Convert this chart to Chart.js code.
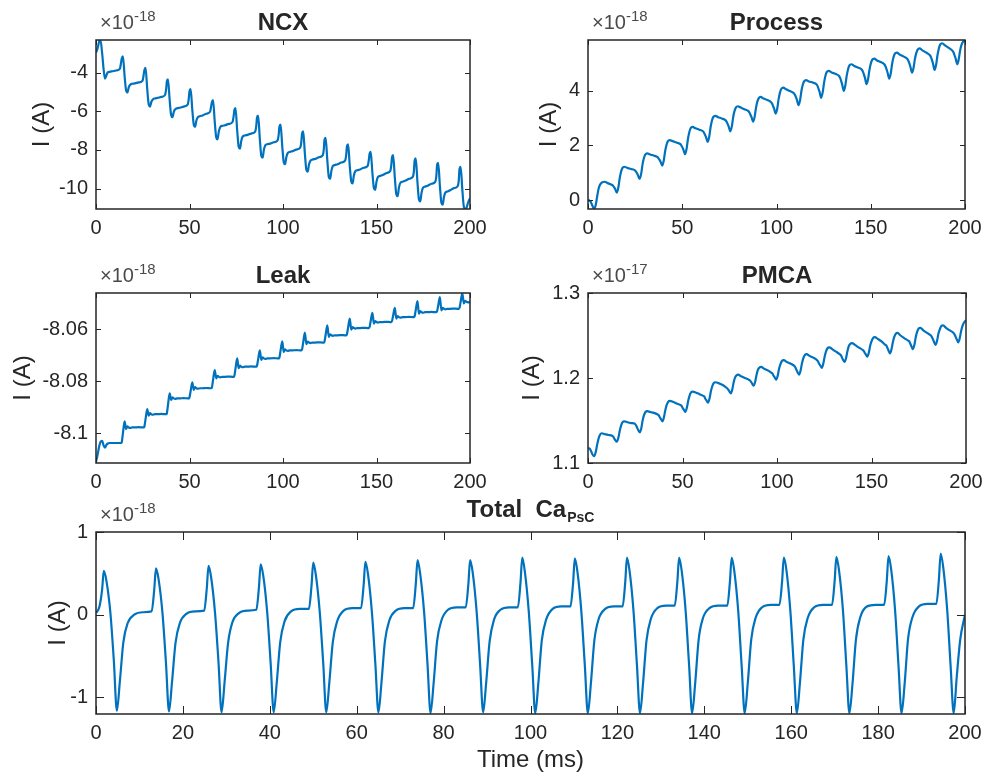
<!DOCTYPE html>
<html>
<head>
<meta charset="utf-8">
<script src="https://cdn.jsdelivr.net/npm/chart.js@4.4.1/dist/chart.umd.min.js"></script>
<style>
  html, body { margin: 0; padding: 0; background: #fff; }
  #fig { position: relative; width: 985px; height: 773px; overflow: hidden; background: #fff; }
  #fig canvas { position: absolute; }
</style>
</head>
<body>
<div id="fig">
  <canvas id="ncx" width="490" height="250" style="left:0;top:0"></canvas>
  <canvas id="process" width="495" height="250" style="left:490px;top:0"></canvas>
  <canvas id="leak" width="490" height="250" style="left:0;top:250px"></canvas>
  <canvas id="pmca" width="495" height="250" style="left:490px;top:250px"></canvas>
  <canvas id="total" width="985" height="278" style="left:0;top:495px"></canvas>
</div>
<script>
// time samples (ms), one row per stimulation cycle
const TIME = [
  0, 0.8, 1.4, 1.8, 2.4, 3.3, 4.1, 4.8, 5.5, 6.3, 7.3, 8.8, 10.8,
  12.8, 13.4, 13.8, 14.4, 15.3, 16.1, 16.8, 17.5, 18.3, 19.3, 20.8, 22.8,
  24.9, 25.5, 25.9, 26.5, 27.4, 28.2, 28.9, 29.6, 30.4, 31.4, 32.9, 34.9,
  36.9, 37.5, 37.9, 38.5, 39.4, 40.2, 40.9, 41.6, 42.4, 43.4, 44.9, 46.9,
  49.0, 49.6, 50.0, 50.6, 51.5, 52.3, 53.0, 53.7, 54.5, 55.5, 57.0, 59.0,
  61.0, 61.6, 62.0, 62.6, 63.5, 64.3, 65.0, 65.7, 66.5, 67.5, 69.0, 71.0,
  73.0, 73.6, 74.0, 74.6, 75.5, 76.3, 77.0, 77.7, 78.5, 79.5, 81.0, 83.0,
  85.1, 85.7, 86.1, 86.7, 87.6, 88.4, 89.1, 89.8, 90.6, 91.6, 93.1, 95.1,
  97.1, 97.7, 98.1, 98.7, 99.6, 100.4, 101.1, 101.8, 102.6, 103.6, 105.1, 107.1,
  109.2, 109.8, 110.2, 110.8, 111.7, 112.5, 113.2, 113.9, 114.7, 115.7, 117.2, 119.2,
  121.2, 121.8, 122.2, 122.8, 123.7, 124.5, 125.2, 125.9, 126.7, 127.7, 129.2, 131.2,
  133.2, 133.8, 134.2, 134.8, 135.7, 136.5, 137.2, 137.9, 138.7, 139.7, 141.2, 143.2,
  145.3, 145.9, 146.3, 146.9, 147.8, 148.6, 149.3, 150.0, 150.8, 151.8, 153.3, 155.3,
  157.3, 157.9, 158.3, 158.9, 159.8, 160.6, 161.3, 162.0, 162.8, 163.8, 165.3, 167.3,
  169.4, 170.0, 170.4, 171.0, 171.9, 172.7, 173.4, 174.1, 174.9, 175.9, 177.4, 179.4,
  181.4, 182.0, 182.4, 183.0, 183.9, 184.7, 185.4, 186.1, 186.9, 187.9, 189.4, 191.4,
  193.4, 194.0, 194.4, 195.0, 195.9, 196.7, 197.4, 198.1, 198.9, 200.0
];

// currents, in units of 1e-18 A
const NCX = [
  -2.95, -2.75, -2.50, -2.35, -2.32, -3.00, -3.85, -4.30, -4.15, -3.98, -3.95, -3.92, -3.88,
  -3.78, -3.48, -3.25, -3.15, -4.18, -4.92, -5.02, -4.75, -4.62, -4.57, -4.55, -4.50,
  -4.40, -4.10, -3.85, -3.75, -4.85, -5.65, -5.75, -5.50, -5.38, -5.33, -5.30, -5.25,
  -5.15, -4.85, -4.44, -4.34, -5.42, -6.20, -6.30, -6.02, -5.89, -5.84, -5.81, -5.75,
  -5.65, -5.35, -4.95, -4.85, -5.92, -6.70, -6.80, -6.47, -6.30, -6.25, -6.21, -6.12,
  -6.02, -5.72, -5.52, -5.42, -6.54, -7.35, -7.45, -7.03, -6.80, -6.75, -6.72, -6.65,
  -6.55, -6.25, -5.93, -5.83, -6.99, -7.83, -7.93, -7.52, -7.30, -7.25, -7.22, -7.15,
  -7.05, -6.75, -6.32, -6.22, -7.42, -8.30, -8.40, -7.98, -7.75, -7.70, -7.67, -7.60,
  -7.50, -7.20, -6.78, -6.68, -7.81, -8.64, -8.74, -8.36, -8.15, -8.10, -8.06, -7.98,
  -7.88, -7.58, -7.14, -7.04, -8.19, -9.03, -9.13, -8.75, -8.55, -8.50, -8.46, -8.38,
  -8.28, -7.98, -7.47, -7.37, -8.54, -9.40, -9.50, -9.07, -8.83, -8.78, -8.74, -8.65,
  -8.55, -8.25, -7.81, -7.71, -8.82, -9.63, -9.73, -9.32, -9.10, -9.05, -9.01, -8.92,
  -8.82, -8.52, -8.20, -8.10, -9.18, -9.97, -10.07, -9.64, -9.40, -9.35, -9.30, -9.20,
  -9.10, -8.80, -8.37, -8.27, -9.44, -10.30, -10.40, -9.95, -9.70, -9.65, -9.60, -9.50,
  -9.40, -9.10, -8.54, -8.44, -9.67, -10.57, -10.67, -10.21, -9.95, -9.90, -9.85, -9.75,
  -9.65, -9.35, -8.77, -8.67, -9.86, -10.74, -10.84, -10.43, -10.20, -10.15, -10.09, -9.98,
  -9.88, -9.58, -8.97, -8.87, -10.06, -10.94, -11.04, -11.00, -10.75, -10.50
];

const PROCESS = [
  0.00, -0.02, -0.06, -0.12, -0.22, -0.32, -0.18, 0.10, 0.38, 0.55, 0.64, 0.67, 0.61,
  0.55, 0.51, 0.47, 0.40, 0.27, 0.46, 0.79, 1.03, 1.18, 1.22, 1.18, 1.14,
  1.09, 1.04, 0.99, 0.91, 0.77, 0.96, 1.29, 1.52, 1.67, 1.71, 1.67, 1.63,
  1.57, 1.52, 1.48, 1.40, 1.26, 1.45, 1.78, 2.01, 2.16, 2.20, 2.16, 2.11,
  2.05, 1.99, 1.94, 1.85, 1.68, 1.88, 2.23, 2.48, 2.64, 2.68, 2.63, 2.58,
  2.52, 2.46, 2.40, 2.31, 2.13, 2.32, 2.66, 2.90, 3.05, 3.09, 3.04, 2.99,
  2.92, 2.86, 2.80, 2.70, 2.52, 2.70, 3.03, 3.26, 3.40, 3.44, 3.39, 3.33,
  3.26, 3.20, 3.14, 3.05, 2.87, 3.05, 3.37, 3.60, 3.74, 3.78, 3.72, 3.67,
  3.59, 3.53, 3.46, 3.36, 3.17, 3.36, 3.69, 3.93, 4.08, 4.12, 4.06, 4.00,
  3.92, 3.85, 3.79, 3.68, 3.48, 3.66, 3.99, 4.22, 4.36, 4.40, 4.35, 4.31,
  4.25, 4.18, 4.10, 3.98, 3.75, 3.95, 4.29, 4.54, 4.70, 4.74, 4.68, 4.63,
  4.55, 4.47, 4.39, 4.25, 4.00, 4.20, 4.54, 4.78, 4.94, 4.98, 4.92, 4.86,
  4.78, 4.70, 4.62, 4.49, 4.25, 4.44, 4.77, 5.00, 5.15, 5.19, 5.12, 5.06,
  4.97, 4.89, 4.81, 4.68, 4.45, 4.64, 4.98, 5.22, 5.37, 5.41, 5.34, 5.27,
  5.18, 5.10, 5.03, 4.90, 4.67, 4.85, 5.16, 5.38, 5.52, 5.56, 5.49, 5.41,
  5.31, 5.23, 5.15, 5.01, 4.77, 4.97, 5.31, 5.55, 5.71, 5.75, 5.67, 5.58,
  5.47, 5.40, 5.32, 5.20, 4.98, 5.17, 5.48, 5.68, 5.80, 5.85
];

const LEAK = [
  -8.1110, -8.1085, -8.1062, -8.1048, -8.1034, -8.1030, -8.1048, -8.1056, -8.1046, -8.1040, -8.1038, -8.1038, -8.1038,
  -8.1038, -8.1038, -8.1034, -8.1001, -8.0955, -8.0984, -8.0974, -8.0978, -8.0980, -8.0978, -8.0978, -8.0977,
  -8.0978, -8.0978, -8.0974, -8.0946, -8.0907, -8.0933, -8.0923, -8.0927, -8.0929, -8.0927, -8.0927, -8.0926,
  -8.0927, -8.0927, -8.0923, -8.0891, -8.0847, -8.0872, -8.0862, -8.0866, -8.0868, -8.0866, -8.0866, -8.0865,
  -8.0866, -8.0866, -8.0862, -8.0838, -8.0804, -8.0833, -8.0823, -8.0827, -8.0829, -8.0827, -8.0827, -8.0826,
  -8.0827, -8.0827, -8.0823, -8.0795, -8.0757, -8.0789, -8.0779, -8.0783, -8.0785, -8.0783, -8.0783, -8.0782,
  -8.0783, -8.0783, -8.0779, -8.0751, -8.0712, -8.0750, -8.0740, -8.0744, -8.0746, -8.0744, -8.0744, -8.0743,
  -8.0744, -8.0744, -8.0740, -8.0716, -8.0681, -8.0718, -8.0708, -8.0712, -8.0714, -8.0712, -8.0712, -8.0711,
  -8.0712, -8.0712, -8.0708, -8.0682, -8.0646, -8.0687, -8.0677, -8.0681, -8.0683, -8.0681, -8.0681, -8.0680,
  -8.0681, -8.0681, -8.0677, -8.0650, -8.0613, -8.0657, -8.0647, -8.0651, -8.0653, -8.0651, -8.0651, -8.0650,
  -8.0651, -8.0651, -8.0647, -8.0621, -8.0585, -8.0629, -8.0619, -8.0623, -8.0625, -8.0623, -8.0623, -8.0622,
  -8.0623, -8.0623, -8.0619, -8.0594, -8.0559, -8.0601, -8.0591, -8.0595, -8.0597, -8.0595, -8.0595, -8.0594,
  -8.0595, -8.0595, -8.0591, -8.0568, -8.0536, -8.0578, -8.0568, -8.0572, -8.0574, -8.0572, -8.0572, -8.0571,
  -8.0572, -8.0572, -8.0568, -8.0547, -8.0517, -8.0559, -8.0549, -8.0553, -8.0555, -8.0553, -8.0553, -8.0552,
  -8.0553, -8.0553, -8.0549, -8.0525, -8.0491, -8.0540, -8.0530, -8.0534, -8.0536, -8.0534, -8.0534, -8.0533,
  -8.0534, -8.0534, -8.0530, -8.0508, -8.0476, -8.0527, -8.0517, -8.0521, -8.0523, -8.0521, -8.0521, -8.0520,
  -8.0521, -8.0521, -8.0517, -8.0494, -8.0461, -8.0500, -8.0490, -8.0494, -8.0496, -8.0495
];

// PMCA in units of 1e-17 A
const PMCA = [
  1.118, 1.117, 1.115, 1.113, 1.110, 1.108, 1.113, 1.121, 1.128, 1.133, 1.135, 1.134, 1.133,
  1.132, 1.131, 1.129, 1.127, 1.125, 1.130, 1.138, 1.144, 1.148, 1.149, 1.148, 1.147,
  1.146, 1.144, 1.142, 1.139, 1.136, 1.141, 1.150, 1.156, 1.160, 1.161, 1.160, 1.159,
  1.157, 1.156, 1.154, 1.152, 1.149, 1.154, 1.162, 1.168, 1.172, 1.173, 1.172, 1.170,
  1.168, 1.167, 1.165, 1.163, 1.160, 1.165, 1.173, 1.179, 1.183, 1.184, 1.183, 1.181,
  1.179, 1.178, 1.176, 1.174, 1.171, 1.176, 1.184, 1.190, 1.194, 1.195, 1.194, 1.192,
  1.189, 1.188, 1.187, 1.185, 1.182, 1.186, 1.194, 1.200, 1.203, 1.204, 1.202, 1.200,
  1.198, 1.197, 1.196, 1.194, 1.191, 1.195, 1.203, 1.209, 1.212, 1.213, 1.211, 1.209,
  1.206, 1.205, 1.203, 1.201, 1.198, 1.203, 1.211, 1.216, 1.220, 1.221, 1.219, 1.217,
  1.214, 1.212, 1.210, 1.207, 1.204, 1.209, 1.217, 1.223, 1.227, 1.228, 1.226, 1.224,
  1.221, 1.219, 1.217, 1.215, 1.212, 1.217, 1.225, 1.231, 1.235, 1.236, 1.234, 1.231,
  1.228, 1.227, 1.225, 1.222, 1.219, 1.223, 1.231, 1.237, 1.240, 1.241, 1.239, 1.236,
  1.233, 1.232, 1.230, 1.228, 1.225, 1.230, 1.238, 1.243, 1.247, 1.248, 1.246, 1.243,
  1.239, 1.238, 1.236, 1.233, 1.229, 1.234, 1.242, 1.248, 1.252, 1.253, 1.250, 1.247,
  1.244, 1.243, 1.241, 1.238, 1.234, 1.239, 1.248, 1.254, 1.258, 1.259, 1.256, 1.253,
  1.250, 1.248, 1.246, 1.243, 1.239, 1.244, 1.252, 1.257, 1.261, 1.262, 1.259, 1.256,
  1.253, 1.251, 1.249, 1.246, 1.242, 1.247, 1.255, 1.261, 1.265, 1.268
];

const TOTAL = [
  0.02, 0.10, 0.30, 0.53, 0.41, 0.03, -0.55, -1.16, -0.80, -0.33, -0.10, 0.00, 0.03,
  0.04, 0.30, 0.56, 0.43, 0.02, -0.58, -1.17, -0.81, -0.34, -0.10, 0.01, 0.04,
  0.05, 0.32, 0.59, 0.45, 0.02, -0.58, -1.18, -0.81, -0.34, -0.09, 0.02, 0.05,
  0.06, 0.33, 0.61, 0.47, 0.03, -0.59, -1.18, -0.82, -0.33, -0.08, 0.04, 0.07,
  0.07, 0.35, 0.63, 0.48, 0.03, -0.59, -1.18, -0.82, -0.33, -0.08, 0.05, 0.08,
  0.08, 0.36, 0.64, 0.49, 0.03, -0.60, -1.18, -0.82, -0.32, -0.07, 0.05, 0.08,
  0.08, 0.37, 0.66, 0.50, 0.04, -0.60, -1.19, -0.83, -0.32, -0.07, 0.06, 0.09,
  0.09, 0.37, 0.66, 0.51, 0.04, -0.60, -1.18, -0.82, -0.32, -0.06, 0.06, 0.09,
  0.09, 0.39, 0.69, 0.52, 0.04, -0.61, -1.19, -0.83, -0.31, -0.06, 0.07, 0.10,
  0.10, 0.38, 0.68, 0.52, 0.04, -0.61, -1.19, -0.83, -0.31, -0.05, 0.07, 0.10,
  0.10, 0.39, 0.69, 0.53, 0.05, -0.61, -1.19, -0.83, -0.31, -0.05, 0.08, 0.11,
  0.11, 0.40, 0.69, 0.53, 0.05, -0.61, -1.19, -0.83, -0.30, -0.04, 0.08, 0.11,
  0.11, 0.40, 0.69, 0.53, 0.05, -0.62, -1.19, -0.83, -0.30, -0.04, 0.09, 0.12,
  0.12, 0.40, 0.69, 0.54, 0.05, -0.62, -1.19, -0.83, -0.30, -0.04, 0.09, 0.12,
  0.12, 0.41, 0.70, 0.54, 0.06, -0.62, -1.19, -0.84, -0.30, -0.03, 0.10, 0.12,
  0.12, 0.41, 0.71, 0.55, 0.06, -0.62, -1.19, -0.84, -0.29, -0.03, 0.10, 0.13,
  0.13, 0.43, 0.74, 0.57, 0.06, -0.63, -1.19, -0.75, -0.30, 0.00
];

// axis ticks
const X_TICKS_SMALL = [0, 50, 100, 150, 200];
const X_TICKS_WIDE = [0, 20, 40, 60, 80, 100, 120, 140, 160, 180, 200];
const NCX_TICKS = [-10, -8, -6, -4];
const NCX_LABELS = ['-10', '-8', '-6', '-4'];
const PROCESS_TICKS = [0, 2, 4];
const PROCESS_LABELS = ['0', '2', '4'];
const LEAK_TICKS = [-8.1, -8.08, -8.06];
const LEAK_LABELS = ['-8.1', '-8.08', '-8.06'];
const PMCA_TICKS = [1.1, 1.2, 1.3];
const PMCA_LABELS = ['1.1', '1.2', '1.3'];
const TOTAL_TICKS = [-1, 0, 1];
const TOTAL_LABELS = ['-1', '0', '1'];

const LINE_BLUE = '#0072BD';
const INK = '#262626';
const FONT = '"Liberation Sans", Arial, Helvetica, sans-serif';

// box, inward ticks and all the MATLAB style text around each axes
const axesDecor = {
  id: 'axesDecor',
  afterDraw(chart, args, opt) {
    const { ctx, chartArea: a } = chart;
    const xs = chart.scales.x, ys = chart.scales.y;
    ctx.save();
    ctx.strokeStyle = INK;
    ctx.lineWidth = 1;
    ctx.beginPath();
    xs.ticks.forEach(t => {
      const px = Math.round(xs.getPixelForValue(t.value)) + 0.5;
      ctx.moveTo(px, a.bottom); ctx.lineTo(px, a.bottom - opt.tickLen);
      ctx.moveTo(px, a.top); ctx.lineTo(px, a.top + opt.tickLen);
    });
    ys.ticks.forEach(t => {
      const py = Math.round(ys.getPixelForValue(t.value)) + 0.5;
      ctx.moveTo(a.left, py); ctx.lineTo(a.left + opt.tickLen, py);
      ctx.moveTo(a.right, py); ctx.lineTo(a.right - opt.tickLen, py);
    });
    ctx.stroke();
    ctx.lineWidth = 1.5;
    ctx.strokeRect(a.left, a.top, a.right - a.left, a.bottom - a.top);

    // title (with optional subscript)
    ctx.fillStyle = INK;
    ctx.textAlign = 'left';
    ctx.textBaseline = 'alphabetic';
    ctx.font = 'bold 24px ' + FONT;
    const w1 = ctx.measureText(opt.title).width;
    let w2 = 0;
    if (opt.titleSub) {
      ctx.font = 'bold 14px ' + FONT;
      w2 = ctx.measureText(opt.titleSub).width + 1;
    }
    const x0 = (a.left + a.right) / 2 - (w1 + w2) / 2;
    const tb = a.top - opt.titleGap;
    ctx.font = 'bold 24px ' + FONT;
    ctx.fillText(opt.title, x0, tb);
    if (opt.titleSub) {
      ctx.font = 'bold 14px ' + FONT;
      ctx.fillText(opt.titleSub, x0 + w1 + 1, tb + 5);
    }

    // exponent label
    ctx.fillStyle = '#4a4a4a';
    ctx.font = '20px ' + FONT;
    ctx.fillText('\u00d710', a.left + 4, a.top - 11);
    const we = ctx.measureText('\u00d710').width;
    ctx.font = '15px ' + FONT;
    ctx.fillText(opt.exp, a.left + 4 + we, a.top - 19);

    // y label
    ctx.fillStyle = INK;
    ctx.save();
    ctx.translate(opt.ylabelX, (a.top + a.bottom) / 2);
    ctx.rotate(-Math.PI / 2);
    ctx.textAlign = 'center';
    ctx.textBaseline = 'middle';
    ctx.font = '24px ' + FONT;
    ctx.fillText('I (A)', 0, 0);
    ctx.restore();

    if (opt.xlabel) {
      ctx.textAlign = 'center';
      ctx.textBaseline = 'middle';
      ctx.font = '24px ' + FONT;
      ctx.fillText(opt.xlabel, (a.left + a.right) / 2, a.bottom + 46);
    }
    ctx.restore();
  }
};

function makePanel(id, series, cfg) {
  return new Chart(document.getElementById(id), {
    type: 'line',
    data: {
      datasets: [{
        data: TIME.map((t, i) => ({ x: t, y: series[i] })),
        borderColor: LINE_BLUE,
        borderWidth: 2.2,
        pointRadius: 0,
        cubicInterpolationMode: 'monotone',
        fill: false
      }]
    },
    options: {
      responsive: false,
      animation: false,
      events: [],
      layout: { padding: { left: 0, top: cfg.top, right: cfg.right, bottom: 0 } },
      plugins: { legend: { display: false }, tooltip: { enabled: false }, axesDecor: cfg.decor },
      scales: {
        x: {
          type: 'linear', min: 0, max: 200,
          grid: { display: false, drawTicks: false },
          border: { display: false },
          afterBuildTicks: s => { s.ticks = cfg.xTicks.map(v => ({ value: v })); },
          afterFit: s => { s.height = cfg.xH; s.paddingLeft = 0; s.paddingRight = 0; },
          ticks: { autoSkip: false, maxRotation: 0, padding: 7, color: INK, font: { size: 20, family: FONT }, callback: v => String(v) }
        },
        y: {
          type: 'linear', min: cfg.yMin, max: cfg.yMax,
          grid: { display: false, drawTicks: false },
          border: { display: false },
          afterBuildTicks: s => { s.ticks = cfg.yTicks.map(v => ({ value: v })); },
          afterFit: s => { s.width = cfg.yW; s.paddingTop = 0; s.paddingBottom = 0; },
          ticks: { autoSkip: false, padding: 8, color: INK, font: { size: 20, family: FONT }, callback: (v, i) => cfg.yLabels[i] }
        }
      }
    },
    plugins: [axesDecor]
  });
}

makePanel('ncx', NCX, {
  top: 40, right: 20, xH: 41, yW: 96, yMin: -11.06, yMax: -2.30,
  xTicks: X_TICKS_SMALL, yTicks: NCX_TICKS, yLabels: NCX_LABELS,
  decor: { title: 'NCX', titleGap: 10, exp: '-18', ylabelX: 42, tickLen: 5 }
});
makePanel('process', PROCESS, {
  top: 40, right: 20, xH: 41, yW: 98, yMin: -0.33, yMax: 5.87,
  xTicks: X_TICKS_SMALL, yTicks: PROCESS_TICKS, yLabels: PROCESS_LABELS,
  decor: { title: 'Process', titleGap: 10, exp: '-18', ylabelX: 59, tickLen: 5 }
});
makePanel('leak', LEAK, {
  top: 43, right: 20, xH: 37, yW: 96, yMin: -8.1115, yMax: -8.0460,
  xTicks: X_TICKS_SMALL, yTicks: LEAK_TICKS, yLabels: LEAK_LABELS,
  decor: { title: 'Leak', titleGap: 10, exp: '-18', ylabelX: 23, tickLen: 5 }
});
makePanel('pmca', PMCA, {
  top: 43, right: 19, xH: 37, yW: 98, yMin: 1.1, yMax: 1.3,
  xTicks: X_TICKS_SMALL, yTicks: PMCA_TICKS, yLabels: PMCA_LABELS,
  decor: { title: 'PMCA', titleGap: 10, exp: '-17', ylabelX: 42, tickLen: 5 }
});
makePanel('total', TOTAL, {
  top: 37, right: 20, xH: 59, yW: 96, yMin: -1.2, yMax: 1.0,
  xTicks: X_TICKS_WIDE, yTicks: TOTAL_TICKS, yLabels: TOTAL_LABELS,
  decor: { title: 'Total  Ca', titleSub: 'PsC', titleGap: 15, exp: '-18', ylabelX: 58, tickLen: 8, xlabel: 'Time (ms)' }
});
</script>
</body>
</html>
